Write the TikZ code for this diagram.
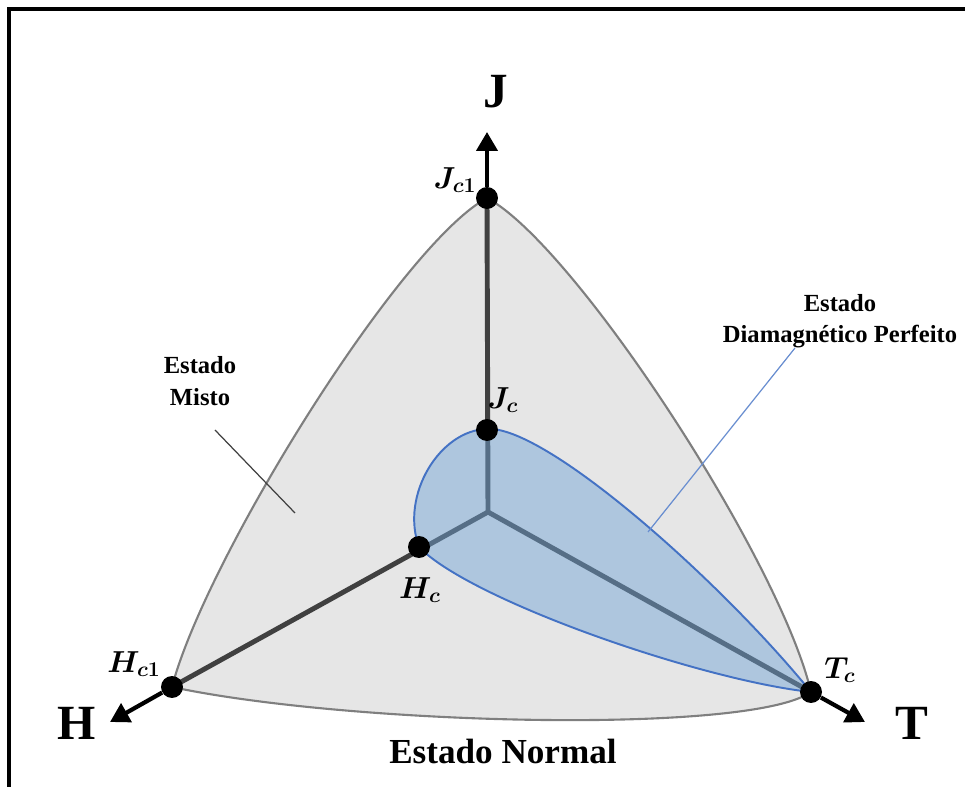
\documentclass[tikz,border=0pt]{standalone}
\usepackage{fontspec}
\setmainfont{Liberation Serif}
\usepackage{tikz}
\usetikzlibrary{arrows.meta}
\definecolor{regiongray}{HTML}{E6E6E6}
\definecolor{edgegray}{HTML}{7F7F7F}
\definecolor{axisgray}{HTML}{404040}
\definecolor{blueedge}{HTML}{4472C4}
\definecolor{bluefill}{RGB}{111,163,214}

\begin{document}
\begin{tikzpicture}[
        x=0.02cm, y=-0.02cm,
        region/.style = {fill=regiongray, draw=edgegray, line width=1.2pt},
        sregion/.style = {fill=bluefill, fill opacity=0.47, draw=blueedge, line width=1.1pt},
        axis/.style = {draw=axisgray, line width=2.8pt},
        outaxis/.style = {draw=black, line width=2.4pt, -{Triangle[length=0.38cm, width=0.42cm]}},
        dot/.style = {circle, fill=black, inner sep=0pt, minimum size=0.44cm},
        bigletter/.style = {font=\fontsize{28}{30}\selectfont\bfseries},
        crit/.style = {font=\fontsize{17}{20}\selectfont\boldmath},
        state/.style = {align=center, font=\fontsize{14}{18}\selectfont\bfseries},
        leader/.style = {line width=0.7pt}
    ]
        \useasboundingbox (0,0) rectangle (965,787);

        % Frame
        \draw [line width=2.2pt] (9,787) -- (9,9) -- (965,9);

        % Points
        \coordinate (o) at (488,512);
        \coordinate (jtip) at (487,132);
        \coordinate (htip) at (110,722);
        \coordinate (ttip) at (865,722);

        % Mixed state region
        \path [region] (172,687) .. controls (205,560) and (400,245) .. (487,198)
            .. controls (575,245) and (780,560) .. (811,692)
            .. controls (750,735) and (350,725) .. (172,687) -- cycle;

        % Leader for Estado Misto
        \coordinate (mfoot) at (295,513);
        \coordinate (mhead) at (215,430);
        \draw [leader, draw=axisgray] (mhead) -- (mfoot);

        % Axes
        \draw [axis] (o) -- (487,198);
        \draw [axis] (o) -- (172,687);
        \draw [axis] (o) -- (811,692);

        % Superconducting region
        \path [sregion] (487,429) .. controls (545,425) and (720,580) .. (811,692)
            .. controls (700,680) and (470,600) .. (419,547)
            .. controls (400,495) and (440,430) .. (487,429) -- cycle;

        % Leader for Estado Diamagnetico
        \coordinate (dfoot) at (648,532);
        \coordinate (dhead) at (795,348);
        \draw [leader, draw=blueedge!80] (dhead) -- (dfoot);

        % Critical points
        \node (jc1) [dot] at (487,198) {};
        \node (jc)  [dot] at (487,430) {};
        \node (hc)  [dot] at (419,547) {};
        \node (hc1) [dot] at (172,687) {};
        \node (tc)  [dot] at (811,692) {};

        % Outer arrows
        \draw [outaxis] (jc1) -- (jtip);
        \draw [outaxis] (hc1) -- (htip);
        \draw [outaxis] (tc) -- (ttip);

        % Axis letters
        \node (jlab) [bigletter] at (496,92) {J};
        \node (hlab) [bigletter] at (77,723) {H};
        \node (tlab) [bigletter] at (912,723) {T};

        % Critical labels
        \node (jc1lab) [crit] at (455,180) {$J_{c1}$};
        \node (jclab)  [crit] at (503,400) {$J_{c}$};
        \node (hclab)  [crit] at (420,590) {$H_{c}$};
        \node (hc1lab) [crit] at (134,664) {$H_{c1}$};
        \node (tclab)  [crit] at (840,670) {$T_{c}$};

        % States
        \node (misto) [state] at (200,381) {Estado\\Misto};
        \node (diam)  [state] at (840,321) {Estado\\Diamagnético Perfeito};
        \node (normal) [font=\fontsize{20}{24}\selectfont\bfseries] at (503,751) {Estado Normal};

    \end{tikzpicture}
\end{document}
